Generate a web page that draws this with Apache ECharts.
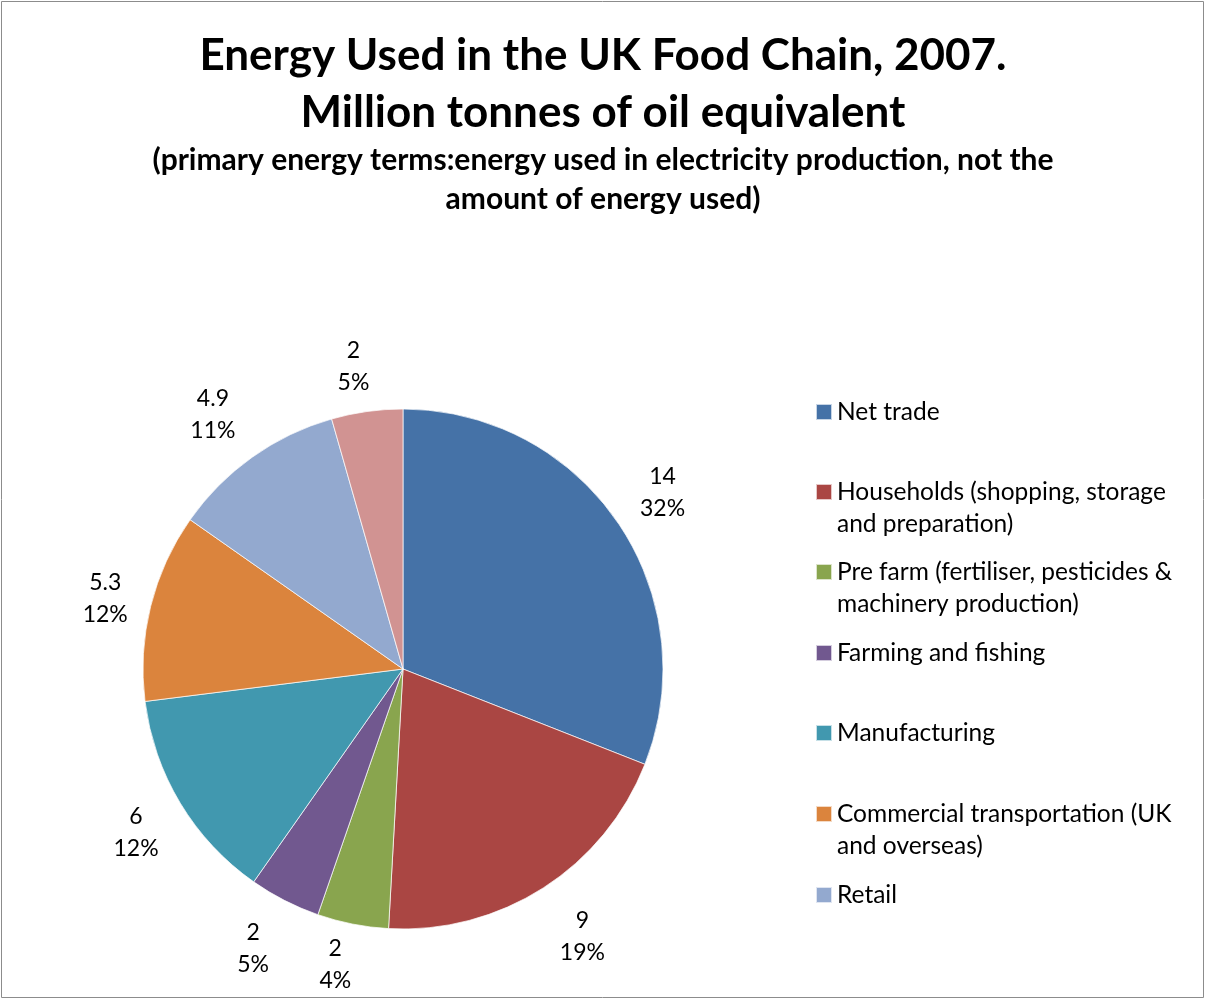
<!DOCTYPE html>
<html>
<head>
<meta charset="utf-8">
<title>Energy Used in the UK Food Chain, 2007</title>
<script src="https://cdn.jsdelivr.net/npm/echarts@6/dist/echarts.min.js"></script>
<style>
  html, body { margin: 0; padding: 0; background: #fff; }
  #chart { width: 1206px; height: 1001px; }
</style>
</head>
<body>
<div id="chart"></div>
<script>
// Sectors of the UK food chain, in drawing order (clockwise from 12 o'clock)
var categories = [
  'Net trade',
  'Households (shopping, storage and preparation)',
  'Pre farm (fertiliser, pesticides & machinery production)',
  'Farming and fishing',
  'Manufacturing',
  'Commercial transportation (UK and overseas)',
  'Retail',
  'Catering'
];
// Energy used, million tonnes of oil equivalent
var values = [14, 9, 2, 2, 6, 5.3, 4.9, 2];
// Share labels as published
var shareLabels = ['32%', '19%', '4%', '5%', '12%', '12%', '11%', '5%'];
// Legend text, wrapped as published
var legendLines = [
  ['Net trade'],
  ['Households (shopping, storage', 'and preparation)'],
  ['Pre farm (fertiliser, pesticides &', 'machinery production)'],
  ['Farming and fishing'],
  ['Manufacturing'],
  ['Commercial transportation (UK', 'and overseas)'],
  ['Retail']
];
var colors = ['#4572A7', '#AA4643', '#89A54E', '#71588F', '#4198AF', '#DB843D', '#93A9CF', '#D19392'];

// small per-label nudges so each label box sits snugly outside its slice
var labelNudge = [[0, 0], [10, 3], [-7, -12], [-7, 0], [2, 2], [7, 5], [-8, 1], [-6, 9]];

var FONT = 'Lato';
var chart = echarts.init(document.getElementById('chart'), null, { renderer: 'canvas' });

var pieData = categories.map(function (name, i) {
  return { name: name, value: values[i], itemStyle: { color: colors[i] } };
});
var labelData = categories.map(function (name, i) {
  return { name: name, value: values[i], label: { offset: labelNudge[i] } };
});

// One legend block per entry so each entry sits at its own height.
// Wrapped entries get a blank lead line so the swatch lines up with the first text line.
var legendCenters = [412, 492, 572, 653, 733, 814, 895];
var LINE = 32;
var legends = legendLines.map(function (lines, i) {
  var multi = lines.length > 1;
  var shown = multi ? [' '].concat(lines) : lines;
  var boxH = LINE * shown.length;
  return {
    show: true,
    orient: 'vertical',
    left: 815,
    top: legendCenters[i] - boxH / 2,
    padding: 0,
    itemWidth: 16,
    itemHeight: 16,
    itemGap: 0,
    icon: 'rect',
    selectedMode: false,
    formatter: function () { return shown.join('\n'); },
    data: [{ name: categories[i], itemStyle: { color: colors[i] } }],
    textStyle: {
      fontFamily: FONT,
      fontSize: 24.5,
      lineHeight: LINE,
      color: '#000'
    }
  };
});

var option = {
  backgroundColor: '#fff',
  animation: false,
  title: [
    {
      text: 'Energy Used in the UK Food Chain, 2007.\nMillion tonnes of oil equivalent',
      left: 'center',
      top: 22,
      textStyle: {
        fontFamily: FONT,
        fontSize: 44,
        fontWeight: 'bold',
        lineHeight: 57,
        color: '#000'
      }
    },
    {
      text: '(primary energy terms:energy used in electricity production, not the\namount of energy used)',
      left: 'center',
      top: 136,
      textStyle: {
        fontFamily: FONT,
        fontSize: 30,
        fontWeight: 'bold',
        lineHeight: 39,
        color: '#000'
      }
    }
  ],
  legend: legends,
  graphic: [{
    type: 'rect',
    shape: { x: 1.5, y: 1.5, width: 1202, height: 996 },
    style: { fill: 'none', stroke: '#8c8c8c', lineWidth: 1 },
    silent: true
  }],
  series: [
    {
      type: 'pie',
      center: [403, 669],
      radius: [0, 260],
      startAngle: 90,
      clockwise: true,
      data: pieData,
      itemStyle: { borderColor: 'rgba(255,255,255,0.7)', borderWidth: 1 },
      label: { show: false },
      labelLine: { show: false },
      emphasis: { disabled: true },
      silent: true
    },
    {
      // invisible ring that carries the data labels just outside the pie
      type: 'pie',
      center: [403, 669],
      radius: [262, 360],
      startAngle: 90,
      clockwise: true,
      data: labelData,
      itemStyle: { color: 'rgba(0,0,0,0)', borderWidth: 0 },
      legendHoverLink: false,
      label: {
        show: true,
        position: 'inside',
        formatter: function (p) { return p.value + '\n' + shareLabels[p.dataIndex]; },
        fontFamily: FONT,
        fontSize: 23,
        lineHeight: 32,
        color: '#000',
        align: 'center'
      },
      labelLine: { show: false },
      emphasis: { disabled: true },
      silent: true
    }
  ]
};

chart.setOption(option);
</script>
</body>
</html>
